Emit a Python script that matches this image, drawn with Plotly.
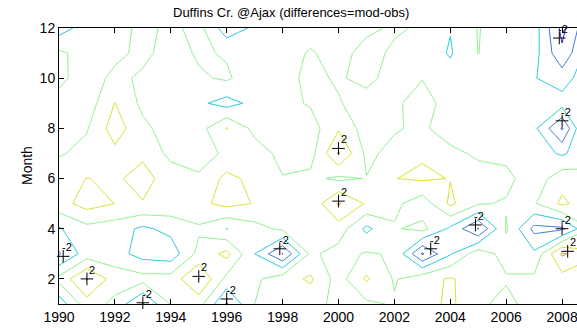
import plotly.graph_objects as go

# Model minus observed flow differences, Duffins Creek at Ajax (year x month grid)
years = list(range(1990, 2010))
months = list(range(1, 13))

m01 = [-1.6, 0.6, -0.3, -2.1, 0.05, 0.4, -2.1, 0.0, 0.3, 0.4, -0.3, -0.2, 0.1, 0.6, 1.2, 0.2, -0.3, 0.45, 0.2, 0.2]
m02 = [0.3, 2.05, 0.55, 0.37, 0.4, 2.05, -0.3, -0.2, 0.6, 1.15, -0.45, 1.15, -0.1, 0.65, 1.1, 0.5, 0.1, 0.2, 0.6, 0.3]
m03 = [-2.1, -0.5, -0.6, -1.4, -1.6, 0.3, 1.3, -1.0, -3.05, 0.2, -0.4, 0.1, -0.1, -3.1, -1.1, 0.6, -0.4, -0.8, 2.15, 1.2]
m04 = [-1.1, -0.3, -0.53, -1.2, -0.7, -0.15, -1.02, -0.35, 0.2, 0.3, 0.55, -1.25, -0.1, 0.3, -1.2, -3.05, 0.1, -2.3, -2.2, 0.0]
m05 = [0.62, 1.4, 0.99, 0.95, 0.7, 0.75, 1.3, 0.95, 0.4, 0.27, 2.1, 0.88, 0.25, -0.6, 1.2, 0.1, -0.1, -0.1, 1.2, 0.4]
m06 = [0.6, 1.02, 0.87, 1.3, 0.6, 0.12, 1.3, 0.7, 0.05, 0.25, -0.2, 0.03, 0.98, 1.15, 0.97, 0.5, 0.3, -0.6, 0.63, 0.2]
m07 = [-0.1, 0.3, 0.73, 0.85, -0.3, -0.35, 0.15, 0.5, -0.3, -0.4, 2.1, -0.23, 0.3, 0.9, 0.3, -0.2, -0.3, -0.5, -1.15, -0.3]
m08 = [-0.4, -0.08, 1.5, 0.25, -0.5, -0.4, 1.05, -0.3, -0.5, -0.45, 0.88, -0.5, -0.1, 0.2, -0.6, -0.2, -0.4, -0.77, -3.1, 1.0]
m09 = [-0.45, -0.55, 1.02, -0.25, -0.6, -0.8, -1.4, -0.7, -0.3, 0.1, 0.1, -0.6, -0.25, 0.6, -0.6, -0.4, -0.5, -0.5, -0.6, -0.3]
m10 = [0.3, -0.6, 0.3, -0.2, -0.5, -0.15, 0.15, -0.6, -0.4, 0.3, -0.15, 0.4, -0.6, -0.05, -0.6, -0.5, -0.5, -0.95, -1.45, -0.3]
m11 = [0.2, -0.45, -0.3, 0.3, -0.5, 0.15, -0.1, -0.6, -0.5, 0.12, -0.5, 0.5, -0.25, -0.4, -1.1, 0.02, -0.6, -0.6, -2.8, -0.5]
m12 = [-1.5, -0.5, -0.45, 0.3, -0.25, 0.35, -1.6, -0.8, -0.7, -0.5, -0.6, -0.3, 0.2, -0.2, -0.95, 0.05, -0.6, -0.5, -3.3, -1.0]

# contour levels and their jet-style line colours
levels = [-3, -2, -1, 0, 1, 2]
level_colors = ["#2424c8", "#3a78d8", "#22c8d8", "#8cf08c", "#d8e02a", "#d0883a"]

# contour labels (clabel style): position of the "+" and the level it marks
label_x = [1990.15, 1991.0, 1993.0, 1995.0, 1996.0, 1997.9, 2000.0, 2000.0, 2003.3, 2004.9, 2007.9, 2008.0, 2008.0, 2008.2]
label_y = [2.9, 2.0, 1.05, 2.1, 1.2, 3.2, 7.2, 5.1, 3.2, 4.15, 11.6, 8.3, 4.0, 3.1]
label_level = [-2, 2, -2, 2, -2, -2, 2, 2, -2, -2, -2, -2, -2, 2]

z = [m01, m02, m03, m04, m05, m06, m07, m08, m09, m10, m11, m12]

fig = go.Figure()
for lv, col in zip(levels, level_colors):
    fig.add_trace(go.Contour(
        x=years, y=months, z=z,
        autocontour=False,
        contours=dict(start=lv, end=lv, size=1, coloring="lines", showlabels=False),
        line=dict(width=1, smoothing=0),
        colorscale=[[0, col], [1, col]],
        showscale=False, hoverinfo="skip",
    ))

fig.add_trace(go.Scatter(
    x=label_x, y=label_y, mode="markers",
    marker=dict(symbol="cross-thin", size=9, line=dict(width=1, color="black")),
    hoverinfo="skip", cliponaxis=False, showlegend=False,
))

font = "Liberation Sans, Arial, sans-serif"
annotations = []
for lx, ly, lv in zip(label_x, label_y, label_level):
    annotations.append(dict(
        x=lx, y=ly, xref="x", yref="y", text=str(lv), showarrow=False,
        xanchor="center", yanchor="middle", xshift=5 if lv > 0 else 4, yshift=9,
        font=dict(family=font, size=11, color="black"),
    ))
annotations.append(dict(
    x=(291 - 59) / 518, y=1 + (28 - 13) / 276, xref="paper", yref="paper",
    text="Duffins Cr. @Ajax (differences=mod-obs)", showarrow=False,
    xanchor="center", yanchor="middle",
    font=dict(family=font, size=13, color="black"),
))
annotations.append(dict(
    x=(27 - 59) / 518, y=0.5, xref="paper", yref="paper", text="Month",
    showarrow=False, textangle=-90, xanchor="center", yanchor="middle",
    font=dict(family=font, size=14, color="black"),
))

fig.update_layout(
    width=577, height=328,
    margin=dict(l=59, r=0, t=28, b=24, pad=0),
    paper_bgcolor="white", plot_bgcolor="white",
    showlegend=False,
    annotations=annotations,
    xaxis=dict(
        range=[1990, 1990 + 518 / 27.95],
        tickmode="array", tickvals=list(range(1990, 2009, 2)),
        ticks="inside", ticklen=5, tickcolor="black",
        showline=True, linecolor="black", linewidth=1, mirror="ticks",
        showgrid=False, zeroline=False, ticklabeloverflow="allow",
        tickfont=dict(family=font, size=14, color="black"),
    ),
    yaxis=dict(
        range=[1, 12],
        tickmode="array", tickvals=list(range(2, 13, 2)),
        ticks="inside", ticklen=5, tickcolor="black",
        showline=True, linecolor="black", linewidth=1, mirror=False,
        showgrid=False, zeroline=False,
        tickfont=dict(family=font, size=14, color="black"),
    ),
)

fig.write_html("out.html")
